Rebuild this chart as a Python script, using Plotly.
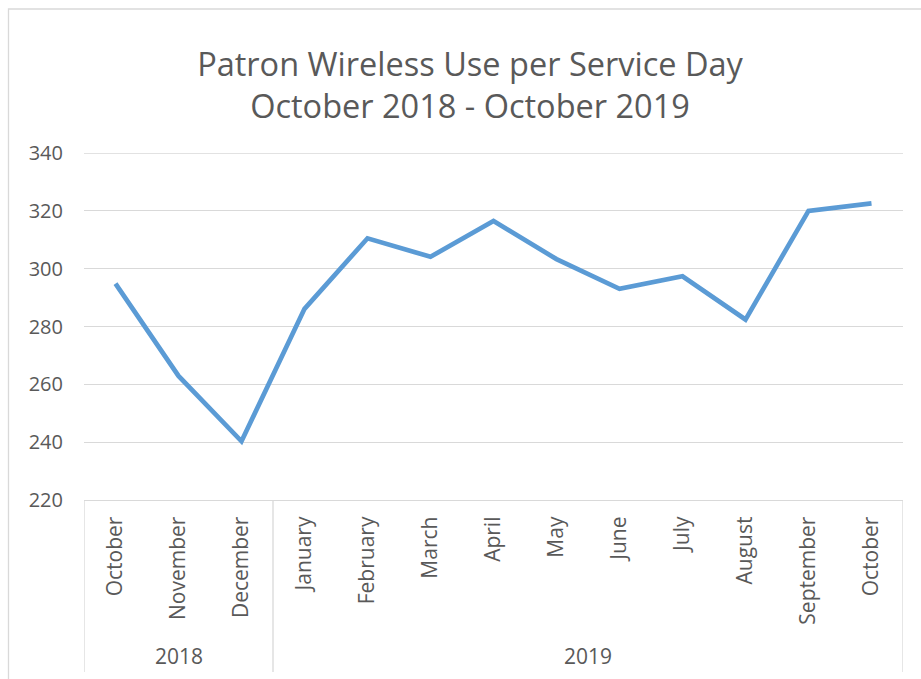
import plotly.graph_objects as go

months = ["October", "November", "December", "January", "February", "March",
          "April", "May", "June", "July", "August", "September", "October"]
years = ["2018", "2019"]
year_counts = [3, 10]
values = [294.8, 262.9, 240.3, 286.1, 310.5, 304.1, 316.5, 303.3, 293.0,
          297.4, 282.4, 320.0, 322.6]
y_ticks = [220, 240, 260, 280, 300, 320, 340]

W, H = 921, 679
L, R, T, B = 84, 18, 153, 179
pw, ph = W - L - R, H - T - B

def px_x(p):
    return (p - L) / pw

def px_y(p):
    return (H - B - p) / ph

xs = list(range(len(months)))
font = "Open Sans"
grey = "#595959"
line_grey = "#d9d9d9"

fig = go.Figure()
fig.add_trace(go.Scatter(
    x=xs, y=values, mode="lines",
    line=dict(color="#5b9bd5", width=4.7, shape="linear"),
    hoverinfo="skip", showlegend=False,
))

shapes = []
# top gridline (at range edge)
shapes.append(dict(type="line", xref="paper", yref="y", x0=0, x1=1,
                   y0=y_ticks[-1], y1=y_ticks[-1], line=dict(color=line_grey, width=1.3),
                   layer="below"))
# category group dividers
bounds = [-0.5]
for c in year_counts:
    bounds.append(bounds[-1] + c)
for b in bounds:
    shapes.append(dict(type="line", xref="x", yref="paper", x0=b, x1=b,
                       y0=0, y1=px_y(672), line=dict(color=line_grey, width=1.3)))
# outer chart border
shapes.append(dict(type="rect", xref="paper", yref="paper",
                   x0=px_x(8.5), x1=px_x(940), y0=px_y(700), y1=px_y(9),
                   line=dict(color=line_grey, width=1.3), fillcolor="rgba(0,0,0,0)",
                   layer="below"))

annotations = []
start = -0.5
for yr, c in zip(years, year_counts):
    annotations.append(dict(text=yr, x=start + c / 2, xref="x", y=px_y(656), yref="paper",
                            showarrow=False, font=dict(family=font, size=21, color=grey),
                            xanchor="center", yanchor="middle"))
    start += c

fig.update_layout(
    width=W, height=H,
    margin=dict(l=L, r=R, t=T, b=B, pad=0),
    paper_bgcolor="white", plot_bgcolor="white",
    title=dict(text="Patron Wireless Use per Service Day<br>October 2018 - October 2019",
               x=470 / W, xref="container", xanchor="center",
               y=1 - 76 / H, yref="container", yanchor="middle",
               font=dict(family=font, size=32.5, color=grey)),
    xaxis=dict(range=[-0.5, len(months) - 0.5], tickvals=xs, ticktext=months,
               tickangle=-90, showgrid=False, zeroline=False,
               showline=True, linecolor=line_grey, linewidth=1.3,
               ticks="", ticklabelstandoff=7,
               tickfont=dict(family=font, size=21, color=grey)),
    yaxis=dict(range=[y_ticks[0], y_ticks[-1]], tickvals=y_ticks,
               showgrid=True, gridcolor=line_grey, gridwidth=1.3,
               zeroline=False, showline=False, ticks="", ticklabelstandoff=20,
               tickfont=dict(family=font, size=20, color=grey)),
    shapes=shapes, annotations=annotations,
)

fig.write_html("out.html", config={"displayModeBar": False},
               post_script="document.body.style.margin='0';document.body.style.overflow='hidden';")
